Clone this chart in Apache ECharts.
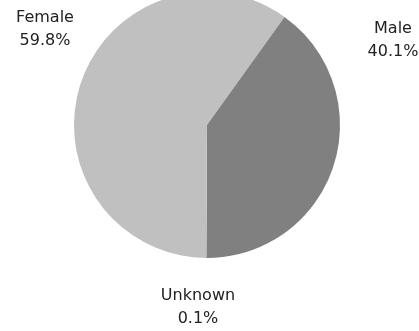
<!DOCTYPE html>
<html>
<head>
<meta charset="utf-8">
<script src="https://cdn.jsdelivr.net/npm/echarts@6/dist/echarts.min.js"></script>
<style>
  html, body { margin: 0; padding: 0; background: #fff; }
  #chart { width: 419px; height: 331px; }
</style>
</head>
<body>
<div id="chart"></div>
<script>
// Gender split, in percent
const categories = ['Unknown', 'Female', 'Male'];
const shares = [0.1, 59.8, 40.1];

const sliceColors = ['#a0a0a0', '#c0c0c0', '#808080'];
// Label anchor points (px) for each slice
const labelSpots = [[198, 307], [45, 29], [393, 40]];

const chart = echarts.init(document.getElementById('chart'), null, { renderer: 'canvas' });

chart.setOption({
  animation: false,
  backgroundColor: '#ffffff',
  series: [{
    type: 'pie',
    center: [207, 125],
    radius: 133,
    startAngle: -90,
    clockwise: true,
    avoidLabelOverlap: false,
    data: categories.map((name, i) => ({
      name,
      value: shares[i],
      itemStyle: { color: sliceColors[i] }
    })),
    itemStyle: { borderWidth: 0 },
    label: {
      show: true,
      position: 'outside',
      formatter: '{b}\n{c}%',
      fontFamily: 'DejaVu Sans',
      fontSize: 16,
      lineHeight: 23,
      color: '#222222',
      align: 'center',
      verticalAlign: 'middle'
    },
    labelLine: { show: false },
    labelLayout: (params) => {
      const p = labelSpots[params.dataIndex];
      return { x: p[0], y: p[1], align: 'center', verticalAlign: 'middle' };
    },
    emphasis: { disabled: true }
  }]
});
</script>
</body>
</html>
